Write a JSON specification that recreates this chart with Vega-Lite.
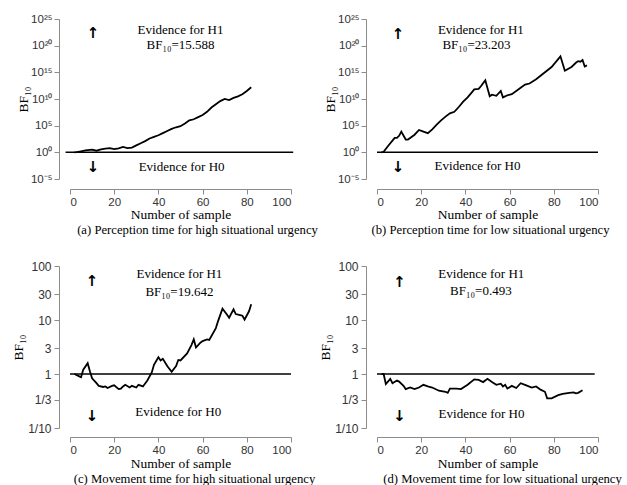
{
  "$schema": "https://vega.github.io/schema/vega-lite/v6.json",
  "padding": {"left": 11, "top": 13, "right": 0, "bottom": 0},
  "datasets": {
    "a": [
      {"n": 2, "bf": 1}, {"n": 3, "bf": 1.12}, {"n": 5, "bf": 1.585}, {"n": 7, "bf": 2.24}, {"n": 9, "bf": 2.82}, {"n": 10, "bf": 3.16}, {"n": 12, "bf": 2.0}, {"n": 14, "bf": 3.55}, {"n": 16, "bf": 5.0}, {"n": 18, "bf": 6.3}, {"n": 20, "bf": 4.0}, {"n": 22, "bf": 5.6}, {"n": 24, "bf": 10}, {"n": 26, "bf": 6.3}, {"n": 28, "bf": 7.9}, {"n": 30, "bf": 20}, {"n": 32, "bf": 50}, {"n": 34, "bf": 126}, {"n": 36, "bf": 398}, {"n": 38, "bf": 794}, {"n": 40, "bf": 1585}, {"n": 42, "bf": 3981}, {"n": 44, "bf": 10000}, {"n": 46, "bf": 25100}, {"n": 48, "bf": 50100}, {"n": 50, "bf": 79400}, {"n": 52, "bf": 251000}, {"n": 54, "bf": 1000000}, {"n": 56, "bf": 1585000}, {"n": 58, "bf": 3980000}, {"n": 60, "bf": 1e7}, {"n": 62, "bf": 3.98e7}, {"n": 64, "bf": 2.51e8}, {"n": 66, "bf": 1e9}, {"n": 68, "bf": 3.98e9}, {"n": 70, "bf": 1e10}, {"n": 72, "bf": 6.31e9}, {"n": 74, "bf": 1.585e10}, {"n": 76, "bf": 3.16e10}, {"n": 78, "bf": 7.94e10}, {"n": 80, "bf": 3.16e11}, {"n": 82, "bf": 1.585e12}
    ],
    "b": [
      {"n": 2, "bf": 1}, {"n": 3, "bf": 1.26}, {"n": 5, "bf": 15.8}, {"n": 7, "bf": 158}, {"n": 8, "bf": 501}, {"n": 9, "bf": 501}, {"n": 10, "bf": 1259}, {"n": 11, "bf": 7943}, {"n": 13, "bf": 251}, {"n": 14, "bf": 251}, {"n": 15, "bf": 501}, {"n": 17, "bf": 1995}, {"n": 19, "bf": 15850}, {"n": 21, "bf": 7943}, {"n": 23, "bf": 3981}, {"n": 25, "bf": 20000}, {"n": 27, "bf": 158500}, {"n": 29, "bf": 1000000}, {"n": 31, "bf": 5010000}, {"n": 33, "bf": 2e7}, {"n": 35, "bf": 3.98e7}, {"n": 37, "bf": 3.16e8}, {"n": 39, "bf": 3.16e9}, {"n": 41, "bf": 2e10}, {"n": 43, "bf": 2e11}, {"n": 44, "bf": 6.31e11}, {"n": 46, "bf": 7.94e11}, {"n": 47, "bf": 2.51e12}, {"n": 49, "bf": 3.16e13}, {"n": 51, "bf": 3.16e10}, {"n": 52, "bf": 6.31e10}, {"n": 54, "bf": 3.98e10}, {"n": 56, "bf": 3.16e11}, {"n": 57, "bf": 2e10}, {"n": 59, "bf": 5.01e10}, {"n": 61, "bf": 7.94e10}, {"n": 63, "bf": 3.16e11}, {"n": 65, "bf": 1.26e12}, {"n": 67, "bf": 5.01e12}, {"n": 69, "bf": 7.94e12}, {"n": 72, "bf": 5.01e13}, {"n": 75, "bf": 5.01e14}, {"n": 79, "bf": 1e16}, {"n": 83, "bf": 1e18}, {"n": 85, "bf": 2e15}, {"n": 88, "bf": 1e16}, {"n": 90, "bf": 6.31e16}, {"n": 91, "bf": 1.26e17}, {"n": 92, "bf": 1e17}, {"n": 93, "bf": 2e17}, {"n": 94, "bf": 1.26e16}, {"n": 95, "bf": 2e16}
    ],
    "c": [
      {"n": 2, "bf": 1}, {"n": 4, "bf": 0.912}, {"n": 5, "bf": 0.871}, {"n": 6, "bf": 1.2}, {"n": 8, "bf": 1.585}, {"n": 9, "bf": 1.12}, {"n": 10, "bf": 0.832}, {"n": 12, "bf": 0.676}, {"n": 13, "bf": 0.603}, {"n": 15, "bf": 0.575}, {"n": 16, "bf": 0.589}, {"n": 17, "bf": 0.55}, {"n": 19, "bf": 0.603}, {"n": 20, "bf": 0.617}, {"n": 22, "bf": 0.525}, {"n": 23, "bf": 0.537}, {"n": 24, "bf": 0.589}, {"n": 25, "bf": 0.631}, {"n": 27, "bf": 0.562}, {"n": 28, "bf": 0.603}, {"n": 30, "bf": 0.562}, {"n": 31, "bf": 0.631}, {"n": 33, "bf": 0.589}, {"n": 35, "bf": 0.759}, {"n": 37, "bf": 1.07}, {"n": 38, "bf": 1.48}, {"n": 40, "bf": 2.04}, {"n": 41, "bf": 1.78}, {"n": 42, "bf": 1.91}, {"n": 44, "bf": 1.41}, {"n": 46, "bf": 1.1}, {"n": 48, "bf": 1.41}, {"n": 49, "bf": 1.82}, {"n": 50, "bf": 1.78}, {"n": 53, "bf": 2.4}, {"n": 55, "bf": 3.47}, {"n": 56, "bf": 4.37}, {"n": 57, "bf": 3.09}, {"n": 59, "bf": 3.8}, {"n": 60, "bf": 4.07}, {"n": 62, "bf": 4.37}, {"n": 63, "bf": 4.27}, {"n": 66, "bf": 7.08}, {"n": 67, "bf": 9.55}, {"n": 69, "bf": 16.2}, {"n": 71, "bf": 12.6}, {"n": 72, "bf": 11.0}, {"n": 74, "bf": 15.8}, {"n": 75, "bf": 12.9}, {"n": 77, "bf": 12.3}, {"n": 78, "bf": 12.0}, {"n": 79, "bf": 10.2}, {"n": 81, "bf": 14.5}, {"n": 82, "bf": 19.6}
    ],
    "d": [
      {"n": 2, "bf": 1}, {"n": 3, "bf": 1}, {"n": 4, "bf": 0.653}, {"n": 6, "bf": 0.813}, {"n": 7, "bf": 0.676}, {"n": 9, "bf": 0.759}, {"n": 10, "bf": 0.724}, {"n": 12, "bf": 0.603}, {"n": 13, "bf": 0.525}, {"n": 15, "bf": 0.562}, {"n": 17, "bf": 0.525}, {"n": 19, "bf": 0.562}, {"n": 21, "bf": 0.631}, {"n": 23, "bf": 0.589}, {"n": 25, "bf": 0.562}, {"n": 28, "bf": 0.49}, {"n": 31, "bf": 0.468}, {"n": 32, "bf": 0.447}, {"n": 33, "bf": 0.537}, {"n": 36, "bf": 0.537}, {"n": 38, "bf": 0.525}, {"n": 41, "bf": 0.631}, {"n": 44, "bf": 0.794}, {"n": 46, "bf": 0.776}, {"n": 48, "bf": 0.708}, {"n": 50, "bf": 0.813}, {"n": 52, "bf": 0.708}, {"n": 54, "bf": 0.631}, {"n": 56, "bf": 0.661}, {"n": 57, "bf": 0.589}, {"n": 58, "bf": 0.631}, {"n": 59, "bf": 0.537}, {"n": 61, "bf": 0.603}, {"n": 63, "bf": 0.55}, {"n": 65, "bf": 0.676}, {"n": 67, "bf": 0.631}, {"n": 70, "bf": 0.562}, {"n": 72, "bf": 0.589}, {"n": 74, "bf": 0.513}, {"n": 76, "bf": 0.468}, {"n": 77, "bf": 0.355}, {"n": 79, "bf": 0.355}, {"n": 82, "bf": 0.407}, {"n": 84, "bf": 0.427}, {"n": 87, "bf": 0.447}, {"n": 89, "bf": 0.457}, {"n": 90, "bf": 0.437}, {"n": 91, "bf": 0.447}, {"n": 93, "bf": 0.5}
    ]
  },
  "columns": 2,
  "spacing": {"row": 87, "column": 86},
  "bounds": "flush",
  "concat": [
    {
      "width": 221, "height": 160,
      "title": {"text": "(a) Perception time for high situational urgency", "orient": "bottom", "anchor": "middle", "dx": 17, "offset": 3},
      "layer": [
        {
          "data": {"name": "a"},
          "mark": {"type": "line", "color": "black", "strokeWidth": 1.8},
          "encoding": {
            "x": {"field": "n", "type": "quantitative", "scale": {"domain": [0, 100], "nice": false}, "axis": {"title": "Number of sample", "values": [0, 20, 40, 60, 80, 100], "offset": 10, "labelPadding": 2, "titlePadding": 0}},
            "y": {"field": "bf", "type": "quantitative", "scale": {"type": "log", "domain": [1e-5, 1e25], "nice": false}, "axis": {"title": "BF₁₀", "values": [1e-5, 1, 1e5, 1e10, 1e15, 1e20, 1e25], "offset": 11, "labelPadding": 2, "titlePadding": 0, "labelExpr": "datum.value < 1e-4 ? '10⁻⁵' : datum.value < 10 ? '10⁰' : datum.value < 1e6 ? '10⁵' : datum.value < 1e11 ? '10¹⁰' : datum.value < 1e16 ? '10¹⁵' : datum.value < 1e21 ? '10²⁰' : '10²⁵'"}}
          }
        },
        {
          "data": {"values": [{}]},
          "mark": {"type": "rule", "color": "black", "strokeWidth": 1.5},
          "encoding": {"x": {"datum": -2}, "x2": {"datum": 101}, "y": {"datum": 1}}
        },
        {
          "data": {"values": [{"n": 50, "bf": 1e23, "label": "Evidence for H1"}, {"n": 50, "bf": 1.6e20, "label": "BF₁₀=15.588"}, {"n": 50.5, "bf": 0.002, "label": "Evidence for H0"}]},
          "mark": {"type": "text", "baseline": "middle", "font": "Liberation Serif", "fontSize": 13, "color": "black"},
          "encoding": {"x": {"field": "n", "type": "quantitative"}, "y": {"field": "bf", "type": "quantitative"}, "text": {"field": "label"}}
        },
        {
          "data": {"values": [{"n": 10.4, "bf": 2e22, "label": "↑"}, {"n": 10.4, "bf": 0.002, "label": "↓"}]},
          "mark": {"type": "text", "baseline": "middle", "font": "DejaVu Sans", "fontWeight": "bold", "fontSize": 15, "color": "black"},
          "encoding": {"x": {"field": "n", "type": "quantitative"}, "y": {"field": "bf", "type": "quantitative"}, "text": {"field": "label"}}
        }
      ]
    },
    {
      "width": 221, "height": 160,
      "title": {"text": "(b) Perception time for low situational urgency", "orient": "bottom", "anchor": "middle", "dx": 3, "offset": 3},
      "layer": [
        {
          "data": {"name": "b"},
          "mark": {"type": "line", "color": "black", "strokeWidth": 1.8},
          "encoding": {
            "x": {"field": "n", "type": "quantitative", "scale": {"domain": [0, 100], "nice": false}, "axis": {"title": "Number of sample", "values": [0, 20, 40, 60, 80, 100], "offset": 10, "labelPadding": 2, "titlePadding": 0}},
            "y": {"field": "bf", "type": "quantitative", "scale": {"type": "log", "domain": [1e-5, 1e25], "nice": false}, "axis": {"title": "BF₁₀", "values": [1e-5, 1, 1e5, 1e10, 1e15, 1e20, 1e25], "offset": 11, "labelPadding": 2, "titlePadding": 0, "labelExpr": "datum.value < 1e-4 ? '10⁻⁵' : datum.value < 10 ? '10⁰' : datum.value < 1e6 ? '10⁵' : datum.value < 1e11 ? '10¹⁰' : datum.value < 1e16 ? '10¹⁵' : datum.value < 1e21 ? '10²⁰' : '10²⁵'"}}
          }
        },
        {
          "data": {"values": [{}]},
          "mark": {"type": "rule", "color": "black", "strokeWidth": 1.5},
          "encoding": {"x": {"datum": 0}, "x2": {"datum": 100}, "y": {"datum": 1}}
        },
        {
          "data": {"values": [{"n": 47, "bf": 1e23, "label": "Evidence for H1"}, {"n": 45, "bf": 1.26e20, "label": "BF₁₀=23.203"}, {"n": 45.5, "bf": 0.00224, "label": "Evidence for H0"}]},
          "mark": {"type": "text", "baseline": "middle", "font": "Liberation Serif", "fontSize": 13, "color": "black"},
          "encoding": {"x": {"field": "n", "type": "quantitative"}, "y": {"field": "bf", "type": "quantitative"}, "text": {"field": "label"}}
        },
        {
          "data": {"values": [{"n": 9.5, "bf": 1.6e22, "label": "↑"}, {"n": 9.5, "bf": 0.002, "label": "↓"}]},
          "mark": {"type": "text", "baseline": "middle", "font": "DejaVu Sans", "fontWeight": "bold", "fontSize": 15, "color": "black"},
          "encoding": {"x": {"field": "n", "type": "quantitative"}, "y": {"field": "bf", "type": "quantitative"}, "text": {"field": "label"}}
        }
      ]
    },
    {
      "width": 221, "height": 162,
      "title": {"text": "(c) Movement time for high situational urgency", "orient": "bottom", "anchor": "middle", "dx": 14, "offset": 3},
      "layer": [
        {
          "data": {"name": "c"},
          "mark": {"type": "line", "color": "black", "strokeWidth": 1.8},
          "encoding": {
            "x": {"field": "n", "type": "quantitative", "scale": {"domain": [0, 100], "nice": false}, "axis": {"title": "Number of sample", "values": [0, 20, 40, 60, 80, 100], "offset": 9, "labelPadding": 2, "titlePadding": 1}},
            "y": {"field": "bf", "type": "quantitative", "scale": {"type": "log", "domain": [0.1, 100], "nice": false}, "axis": {"title": "BF₁₀", "values": [0.1, 0.33333, 1, 3, 10, 30, 100], "offset": 11, "labelPadding": 3, "titlePadding": 2, "labelFontSize": 12, "labelExpr": "datum.value < 0.2 ? '1/10' : datum.value < 0.5 ? '1/3' : datum.value < 2 ? '1' : datum.value < 5 ? '3' : datum.value < 20 ? '10' : datum.value < 50 ? '30' : '100'"}}
          }
        },
        {
          "data": {"values": [{}]},
          "mark": {"type": "rule", "color": "black", "strokeWidth": 1.5},
          "encoding": {"x": {"datum": 0}, "x2": {"datum": 100}, "y": {"datum": 1}}
        },
        {
          "data": {"values": [{"n": 49.5, "bf": 70.8, "label": "Evidence for H1"}, {"n": 49.5, "bf": 33.1, "label": "BF₁₀=19.642"}, {"n": 49, "bf": 0.2, "label": "Evidence for H0"}]},
          "mark": {"type": "text", "baseline": "middle", "font": "Liberation Serif", "fontSize": 13, "color": "black"},
          "encoding": {"x": {"field": "n", "type": "quantitative"}, "y": {"field": "bf", "type": "quantitative"}, "text": {"field": "label"}}
        },
        {
          "data": {"values": [{"n": 10, "bf": 53.7, "label": "↑"}, {"n": 10, "bf": 0.17, "label": "↓"}]},
          "mark": {"type": "text", "baseline": "middle", "font": "DejaVu Sans", "fontWeight": "bold", "fontSize": 15, "color": "black"},
          "encoding": {"x": {"field": "n", "type": "quantitative"}, "y": {"field": "bf", "type": "quantitative"}, "text": {"field": "label"}}
        }
      ]
    },
    {
      "width": 221, "height": 162,
      "title": {"text": "(d) Movement time for low situational urgency", "orient": "bottom", "anchor": "middle", "dx": 15, "offset": 3},
      "layer": [
        {
          "data": {"name": "d"},
          "mark": {"type": "line", "color": "black", "strokeWidth": 1.8},
          "encoding": {
            "x": {"field": "n", "type": "quantitative", "scale": {"domain": [0, 100], "nice": false}, "axis": {"title": "Number of sample", "values": [0, 20, 40, 60, 80, 100], "offset": 9, "labelPadding": 2, "titlePadding": 1}},
            "y": {"field": "bf", "type": "quantitative", "scale": {"type": "log", "domain": [0.1, 100], "nice": false}, "axis": {"title": "BF₁₀", "values": [0.1, 0.33333, 1, 3, 10, 30, 100], "offset": 11, "labelPadding": 3, "titlePadding": 2, "labelFontSize": 12, "labelExpr": "datum.value < 0.2 ? '1/10' : datum.value < 0.5 ? '1/3' : datum.value < 2 ? '1' : datum.value < 5 ? '3' : datum.value < 20 ? '10' : datum.value < 50 ? '30' : '100'"}}
          }
        },
        {
          "data": {"values": [{}]},
          "mark": {"type": "rule", "color": "black", "strokeWidth": 1.5},
          "encoding": {"x": {"datum": 0}, "x2": {"datum": 98.5}, "y": {"datum": 1}}
        },
        {
          "data": {"values": [{"n": 47.2, "bf": 70.8, "label": "Evidence for H1"}, {"n": 47, "bf": 34.7, "label": "BF₁₀=0.493"}, {"n": 47.3, "bf": 0.182, "label": "Evidence for H0"}]},
          "mark": {"type": "text", "baseline": "middle", "font": "Liberation Serif", "fontSize": 13, "color": "black"},
          "encoding": {"x": {"field": "n", "type": "quantitative"}, "y": {"field": "bf", "type": "quantitative"}, "text": {"field": "label"}}
        },
        {
          "data": {"values": [{"n": 10.2, "bf": 51.3, "label": "↑"}, {"n": 10.2, "bf": 0.17, "label": "↓"}]},
          "mark": {"type": "text", "baseline": "middle", "font": "DejaVu Sans", "fontWeight": "bold", "fontSize": 15, "color": "black"},
          "encoding": {"x": {"field": "n", "type": "quantitative"}, "y": {"field": "bf", "type": "quantitative"}, "text": {"field": "label"}}
        }
      ]
    }
  ],
  "config": {
    "view": {"stroke": null},
    "axis": {"grid": false, "domainColor": "#8c8c8c", "tickColor": "#8c8c8c", "labelColor": "#333333", "labelFont": "Liberation Sans", "labelFontSize": 11.5, "titleFont": "Liberation Serif", "titleFontSize": 13.5, "titleFontWeight": "normal", "titleColor": "black", "tickSize": 5, "domainWidth": 1},
    "title": {"font": "Liberation Serif", "fontSize": 12.7, "fontWeight": "normal", "color": "black"}
  }
}
